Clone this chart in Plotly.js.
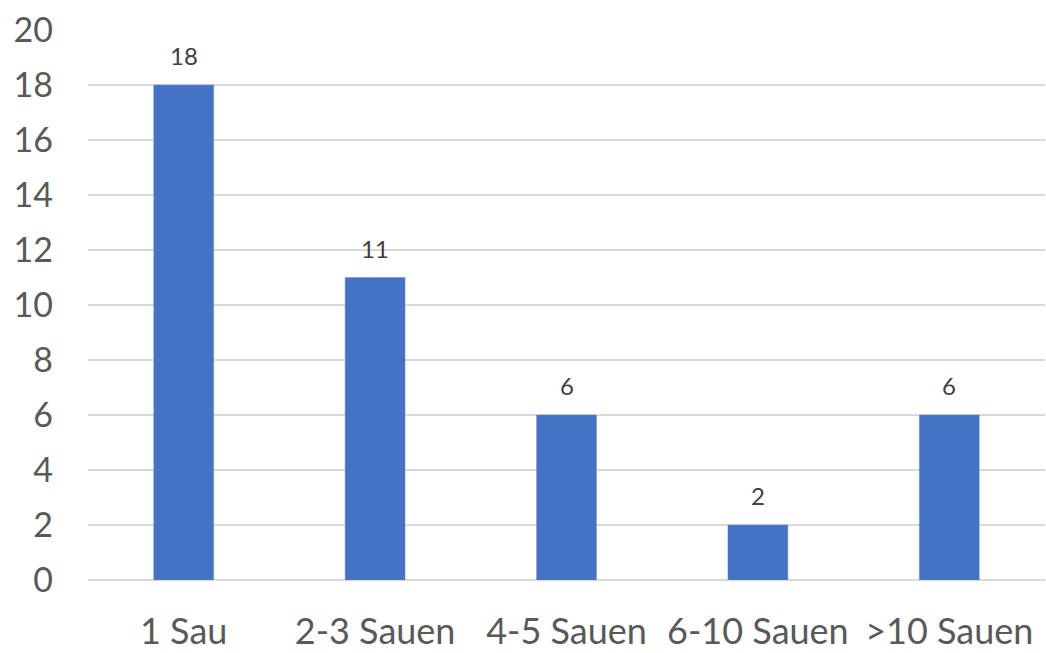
<!DOCTYPE html>
<html>
<head>
<meta charset="utf-8">
<script src="https://cdn.plot.ly/plotly-3.0.1.min.js"></script>
<style>html,body{margin:0;padding:0;background:#fff;}#chart{width:1046px;height:653px;}</style>
</head>
<body>
<div id="chart"></div>
<script>
var categories = ["1 Sau", "2-3 Sauen", "4-5 Sauen", "6-10 Sauen", ">10 Sauen"];
var values = [18, 11, 6, 2, 6];
var yTicks = [0, 2, 4, 6, 8, 10, 12, 14, 16, 18, 20];

var FONT = "Lato, 'Open Sans', sans-serif";

var trace = {
  type: "bar",
  x: categories,
  y: values,
  marker: {color: "#4472C4", line: {color: "#6a8fd4", width: 0.5}},
  hoverinfo: "none"
};

var annotations = categories.map(function(c, i) {
  return {
    x: c, y: values[i], xref: "x", yref: "y",
    text: String(values[i]), showarrow: false,
    yanchor: "bottom", yshift: 13,
    font: {family: FONT, size: 24, color: "#404040"}
  };
});

var layout = {
  width: 1046, height: 653,
  margin: {l: 88, r: 1, t: 30, b: 73, pad: 0},
  paper_bgcolor: "#ffffff",
  plot_bgcolor: "#ffffff",
  showlegend: false,
  bargap: 0.687,
  xaxis: {
    type: "category",
    showgrid: false, zeroline: false, showline: false,
    ticks: "",
    ticklabelstandoff: 27,
    tickfont: {family: FONT, size: 36, color: "#595959"}
  },
  yaxis: {
    range: [0, 20],
    tickvals: yTicks,
    ticktext: yTicks.map(String),
    showgrid: true, gridcolor: "#d9d9d9", gridwidth: 1.3,
    zeroline: true, zerolinecolor: "#d9d9d9", zerolinewidth: 1.3,
    showline: false, ticks: "",
    ticklabelstandoff: 34,
    tickfont: {family: FONT, size: 34, color: "#595959"}
  },
  annotations: annotations
};

Plotly.newPlot("chart", [trace], layout, {displayModeBar: false, staticPlot: true});
</script>
</body>
</html>
